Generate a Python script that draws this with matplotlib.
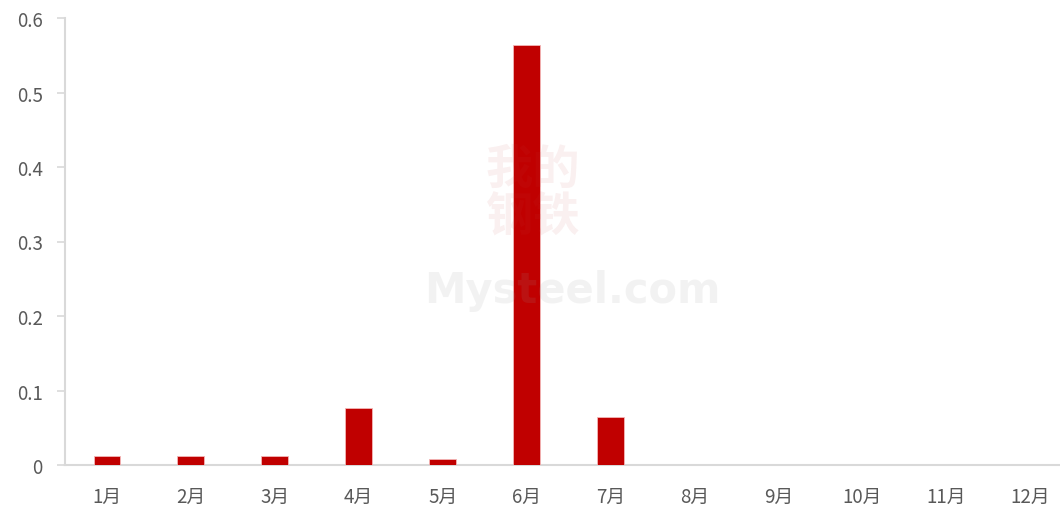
import matplotlib.pyplot as plt
import numpy as np

plt.rcParams['font.family'] = ['Noto Sans CJK SC', 'DejaVu Sans']

months = ['1月', '2月', '3月', '4月', '5月', '6月', '7月', '8月', '9月', '10月', '11月', '12月']
values = [0.012, 0.012, 0.012, 0.077, 0.008, 0.564, 0.065, 0, 0, 0, 0, 0]
yticks = [0, 0.1, 0.2, 0.3, 0.4, 0.5, 0.6]
ytick_labels = ['0', '0.1', '0.2', '0.3', '0.4', '0.5', '0.6']

fig = plt.figure(figsize=(10.6, 5.1), dpi=100)
ax = fig.add_axes([65 / 1060, 44 / 510, 1007 / 1060, 447 / 510])

x = np.arange(len(months))
ax.bar(x, values, width=0.32, color='#C00000', edgecolor='#F4B6B6', linewidth=0.6, zorder=3)

ax.set_xlim(-0.5, 11.5)
ax.set_ylim(0, 0.6)
ax.set_yticks(yticks)
ax.set_yticklabels(ytick_labels)
ax.set_xticks(x)
ax.set_xticklabels(months)

for s in ['top', 'right']:
    ax.spines[s].set_visible(False)
for s in ['left', 'bottom']:
    ax.spines[s].set_color('#D9D9D9')
    ax.spines[s].set_linewidth(1.5)

ax.tick_params(axis='y', length=6, color='#D9D9D9', width=1.2, labelsize=13.5,
               labelcolor='#595959', pad=10)
ax.tick_params(axis='x', length=0, labelsize=13.5, labelcolor='#595959', pad=15)

# faint watermark
fig.text(0.503, 0.62, '我的\n钢铁', fontsize=34, color='#c04040', alpha=0.08,
         ha='center', va='center', linespacing=1.0, fontweight='bold')
fig.text(0.54, 0.43, 'Mysteel.com', fontsize=30, color='#999999', alpha=0.12,
         ha='center', va='center', fontweight='bold', family=['DejaVu Sans'])

fig.savefig('out.png', dpi=100)
